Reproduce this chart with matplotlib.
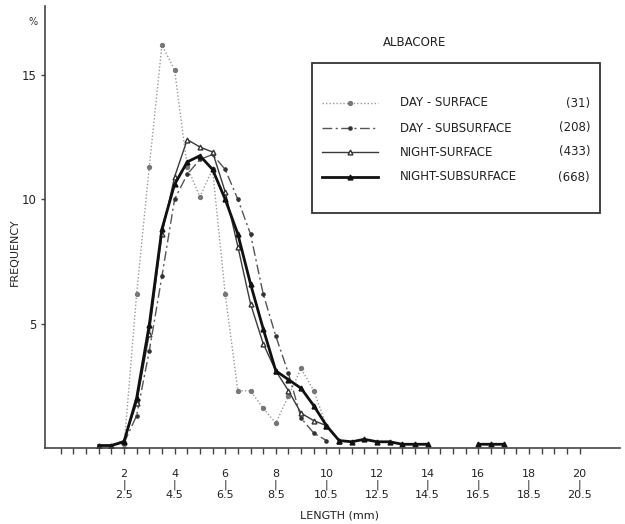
import matplotlib
matplotlib.use("Agg")
import matplotlib.pyplot as plt
import numpy as np
from matplotlib.lines import Line2D
from matplotlib.patches import Rectangle

# Albacore larvae: length-frequency (%) by 0.5 mm class
day_surf_x = [2.0, 2.5, 3.0, 3.5, 4.0, 4.5, 5.0, 5.5, 6.0, 6.5, 7.0, 7.5, 8.0, 8.5, 9.0, 9.5, 10.0]
day_surf_y = [0.0, 6.2, 11.3, 16.2, 15.2, 11.3, 10.1, 11.2, 6.2, 2.3, 2.3, 1.6, 1.0, 2.1, 3.2, 2.3, 0.9]

day_sub_x = [2.0, 2.5, 3.0, 3.5, 4.0, 4.5, 5.0, 5.5, 6.0, 6.5, 7.0, 7.5, 8.0, 8.5, 9.0, 9.5, 10.0]
day_sub_y = [0.2, 1.3, 3.9, 6.9, 10.0, 11.0, 11.6, 11.8, 11.2, 10.0, 8.6, 6.2, 4.5, 3.0, 1.2, 0.6, 0.3]

night_surf_x = [1.0, 1.5, 2.0, 2.5, 3.0, 3.5, 4.0, 4.5, 5.0, 5.5, 6.0, 6.5, 7.0, 7.5, 8.0, 8.5, 9.0, 9.5, 10.0, 10.5]
night_surf_y = [0.1, 0.1, 0.3, 1.8, 4.6, 8.6, 10.9, 12.4, 12.1, 11.9, 10.3, 8.1, 5.8, 4.2, 3.1, 2.3, 1.4, 1.1, 0.9, 0.3]

night_sub_x = [1.0, 1.5, 2.0, 2.5, 3.0, 3.5, 4.0, 4.5, 5.0, 5.5, 6.0, 6.5, 7.0, 7.5, 8.0, 8.5, 9.0,
               9.5, 10.0, 10.5, 11.0, 11.5, 12.0, 12.5, 13.0, 13.5, 14.0, 15.0, 16.0, 16.5, 17.0]
night_sub_y = [0.1, 0.1, 0.25, 2.0, 4.95, 8.8, 10.6, 11.5, 11.75, 11.2, 10.0, 8.6, 6.6, 4.8, 3.1, 2.75, 2.4,
               1.7, 0.9, 0.3, 0.25, 0.35, 0.25, 0.25, 0.15, 0.15, 0.15, np.nan, 0.15, 0.15, 0.15]

labels = ["DAY - SURFACE", "DAY - SUBSURFACE", "NIGHT-SURFACE", "NIGHT-SUBSURFACE"]
counts = ["(31)", "(208)", "(433)", "(668)"]

major_ticks = [2, 4, 6, 8, 10, 12, 14, 16, 18, 20]
tick_labels = ["2\n|\n2.5", "4\n|\n4.5", "6\n|\n6.5", "8\n|\n8.5", "10\n|\n10.5",
               "12\n|\n12.5", "14\n|\n14.5", "16\n|\n16.5", "18\n|\n18.5", "20\n|\n20.5"]

# line styles, same order as labels
styles = [
    dict(color="#999999", ls=(0, (1, 1.5)), lw=1.0, marker="o", ms=2.8,
         mfc="#777777", mec="#777777"),
    dict(color="#555555", ls=(0, (7, 2.5, 1.5, 2.5)), lw=1.0, marker="o", ms=2.3,
         mfc="#333333", mec="#333333"),
    dict(color="#3a3a3a", ls="-", lw=1.0, marker="^", ms=3.5,
         mfc="white", mec="#333333"),
    dict(color="#111111", ls="-", lw=2.0, marker="^", ms=3.5,
         mfc="#111111", mec="#111111"),
]

W, H = 625, 524


def fx(px):
    return px / W


def fy(py):
    return 1 - py / H


fig = plt.figure(figsize=(6.25, 5.24), dpi=100)
ax = fig.add_axes([fx(45), fy(448), fx(620) - fx(45), fy(6) - fy(448)])

series = [(day_surf_x, day_surf_y), (day_sub_x, day_sub_y),
          (night_surf_x, night_surf_y), (night_sub_x, night_sub_y)]
for (xs, ys), st in zip(series, styles):
    ax.plot(xs, ys, **st)

ax.set_xlim(-1.12, 21.6)
ax.set_ylim(0, 17.77)

for side in ["top", "right"]:
    ax.spines[side].set_visible(False)
for side in ["left", "bottom"]:
    ax.spines[side].set_color("#444444")
    ax.spines[side].set_linewidth(1.2)

ax.set_xticks(major_ticks)
ax.set_xticklabels(tick_labels, fontsize=8, linespacing=1.05, color="#222222")
ax.set_xticks([v / 2 for v in range(-1, 41)], minor=True)
ax.tick_params(axis="x", which="both", direction="out", length=4, width=1, color="#444444")
ax.tick_params(axis="x", which="major", pad=11)

ax.set_yticks([5, 10, 15])
ax.set_yticklabels(["5", "10", "15"], fontsize=8.5, color="#222222")
ax.tick_params(axis="y", direction="out", length=3, width=1, color="#444444", pad=3)

# axis titles placed like the original drawing
fig.text(fx(33), fy(22), "%", fontsize=7, ha="center", va="center", color="#333333")
fig.text(fx(15), fy(252), "FREQUENCY", fontsize=8, rotation=90,
         ha="center", va="center", color="#222222")
fig.text(fx(340), fy(515), "LENGTH (mm)", fontsize=8, ha="center", va="center",
         color="#222222")
fig.text(fx(415), fy(42), "ALBACORE", fontsize=8.5, ha="center", va="center",
         color="#222222")

# hand drawn legend box
fig.add_artist(Rectangle((fx(312), fy(213)), fx(600) - fx(312), fy(63) - fy(213),
                         transform=fig.transFigure, fill=False, lw=1.3, ec="#333333"))
rows = [103, 128, 152, 177]
for py, lab, cnt, st in zip(rows, labels, counts, styles):
    fig.add_artist(Line2D([fx(322), fx(350), fx(378)], [fy(py)] * 3,
                          transform=fig.transFigure, markevery=[1], **st))
    fig.text(fx(400), fy(py), lab, fontsize=8.5, ha="left", va="center", color="#222222")
    fig.text(fx(590), fy(py), cnt, fontsize=8.5, ha="right", va="center", color="#222222")

fig.savefig("out.png", dpi=100)
